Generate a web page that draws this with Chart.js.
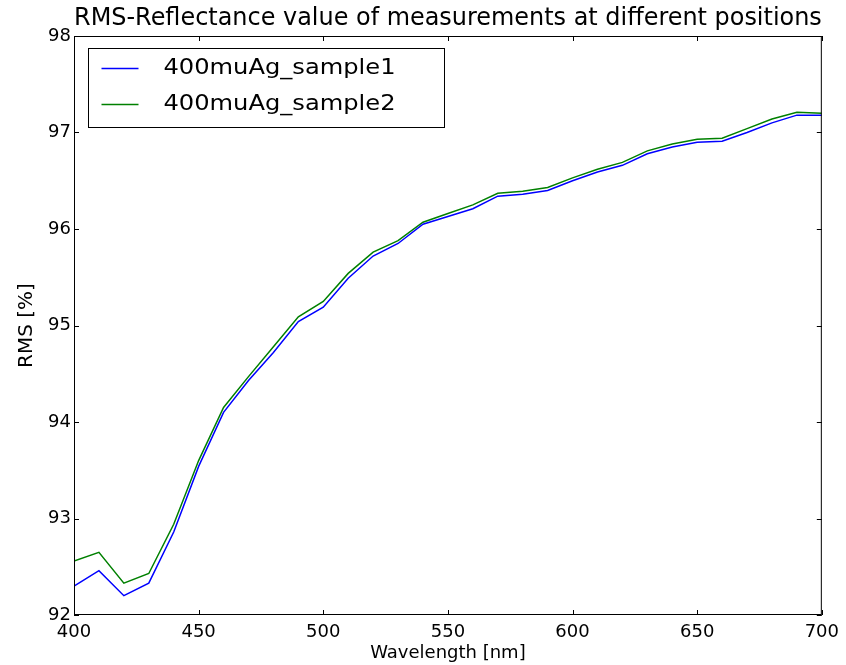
<!DOCTYPE html>
<html>
<head>
<meta charset="utf-8">
<title>RMS-Reflectance</title>
<script src="https://cdn.jsdelivr.net/npm/chart.js@4/dist/chart.umd.min.js"></script>
<style>
  html, body { margin: 0; padding: 0; background: #fff; }
  #wrap { width: 846px; height: 665px; }
</style>
</head>
<body>
<div id="wrap"><canvas id="rms"></canvas></div>
<script>
// Wavelengths in nm (x axis)
const wavelengths = [400, 410, 420, 430, 440, 450, 460, 470, 480, 490,
  500, 510, 520, 530, 540, 550, 560, 570, 580, 590,
  600, 610, 620, 630, 640, 650, 660, 670, 680, 690, 700];

// RMS reflectance values in %
const sample1 = [92.30, 92.46, 92.20, 92.33, 92.86, 93.54, 94.10, 94.43, 94.72, 95.04,
  95.19, 95.49, 95.72, 95.85, 96.05, 96.13, 96.21, 96.34, 96.36, 96.40,
  96.50, 96.59, 96.66, 96.78, 96.85, 96.90, 96.91, 97.00, 97.10, 97.18, 97.18];
const sample2 = [92.56, 92.65, 92.33, 92.43, 92.94, 93.60, 94.15, 94.47, 94.78, 95.09,
  95.25, 95.54, 95.76, 95.88, 96.07, 96.16, 96.25, 96.37, 96.39, 96.43,
  96.53, 96.62, 96.69, 96.81, 96.88, 96.93, 96.94, 97.04, 97.14, 97.21, 97.20];

const seriesLabels = ['400muAg_sample1', '400muAg_sample2'];
const seriesColors = ['#0000ff', '#008000'];

const xTicks = [400, 450, 500, 550, 600, 650, 700];
const yTicks = [92, 93, 94, 95, 96, 97, 98];

const FONT = "'DejaVu Sans', sans-serif";

function toPoints(values) {
  return wavelengths.map((wl, i) => ({ x: wl, y: values[i] }));
}

// Draws the matplotlib-style frame with inward ticks and the inset legend
const framePlugin = {
  id: 'frame',
  afterDatasetsDraw(chart) {
    const { ctx, chartArea: ca, scales } = chart;
    const tickLen = 5;
    ctx.save();
    ctx.strokeStyle = '#000';
    ctx.lineWidth = 1;
    ctx.strokeRect(ca.left + 0.5, ca.top + 0.5, ca.right - ca.left - 1, ca.bottom - ca.top - 1);

    ctx.beginPath();
    xTicks.forEach(v => {
      const px = Math.round(scales.x.getPixelForValue(v)) + 0.5;
      ctx.moveTo(px, ca.bottom);
      ctx.lineTo(px, ca.bottom - tickLen);
      ctx.moveTo(px, ca.top);
      ctx.lineTo(px, ca.top + tickLen);
    });
    yTicks.forEach(v => {
      const py = Math.round(scales.y.getPixelForValue(v)) + 0.5;
      ctx.moveTo(ca.left, py);
      ctx.lineTo(ca.left + tickLen, py);
      ctx.moveTo(ca.right, py);
      ctx.lineTo(ca.right - tickLen, py);
    });
    ctx.stroke();

    // legend box in the upper left corner of the axes
    const boxX = ca.left + 14.5;
    const boxY = ca.top + 12.5;
    const boxW = 356;
    const boxH = 79;
    ctx.fillStyle = '#fff';
    ctx.fillRect(boxX, boxY, boxW, boxH);
    ctx.strokeStyle = '#000';
    ctx.strokeRect(boxX, boxY, boxW, boxH);

    ctx.font = '21px ' + FONT;
    ctx.textBaseline = 'middle';
    ctx.textAlign = 'left';
    chart.data.datasets.forEach((ds, i) => {
      const rowY = boxY + 20 + i * 36;
      ctx.strokeStyle = ds.borderColor;
      ctx.lineWidth = 1.5;
      ctx.beginPath();
      ctx.moveTo(boxX + 13, rowY);
      ctx.lineTo(boxX + 50, rowY);
      ctx.stroke();
      // the reference text is a bit wider than DejaVu at this height
      ctx.save();
      ctx.translate(boxX + 75, rowY);
      ctx.scale(1.15, 1);
      ctx.fillStyle = '#000';
      ctx.fillText(ds.label, 0, 0);
      ctx.restore();
    });
    ctx.restore();
  }
};

new Chart(document.getElementById('rms'), {
  type: 'line',
  data: {
    datasets: [
      {
        label: seriesLabels[0],
        data: toPoints(sample1),
        borderColor: seriesColors[0],
        borderWidth: 1.5,
        pointRadius: 0,
        tension: 0
      },
      {
        label: seriesLabels[1],
        data: toPoints(sample2),
        borderColor: seriesColors[1],
        borderWidth: 1.5,
        pointRadius: 0,
        tension: 0
      }
    ]
  },
  options: {
    responsive: true,
    maintainAspectRatio: false,
    animation: false,
    layout: { padding: { top: 0, left: 0, right: 24, bottom: 0 } },
    scales: {
      x: {
        type: 'linear',
        min: 400,
        max: 700,
        afterBuildTicks: scale => { scale.ticks = xTicks.map(v => ({ value: v })); },
        afterFit: scale => { scale.height = 50; },
        grid: { display: false, drawTicks: false },
        border: { display: false },
        ticks: { color: '#000', font: { family: FONT, size: 18 }, padding: 7, maxRotation: 0 },
        title: {
          display: true,
          text: 'Wavelength [nm]',
          color: '#000',
          font: { family: FONT, size: 18 },
          padding: { top: 0, bottom: 1 }
        }
      },
      y: {
        min: 92,
        max: 98,
        afterBuildTicks: scale => { scale.ticks = yTicks.map(v => ({ value: v })); },
        afterFit: scale => { scale.width = 74; },
        grid: { display: false, drawTicks: false },
        border: { display: false },
        ticks: { color: '#000', font: { family: FONT, size: 18 }, padding: 3 },
        title: {
          display: true,
          text: 'RMS [%]',
          color: '#000',
          font: { family: FONT, size: 20 },
          padding: { top: 15, bottom: 0 }
        }
      }
    },
    plugins: {
      legend: { display: false },
      tooltip: { enabled: false },
      title: {
        display: true,
        fullSize: false,
        text: 'RMS-Reflectance value of measurements at different positions',
        color: '#000',
        font: { family: FONT, size: 24, weight: 'normal' },
        padding: { top: 4, bottom: 3.2 }
      }
    }
  },
  plugins: [framePlugin]
});
</script>
</body>
</html>
